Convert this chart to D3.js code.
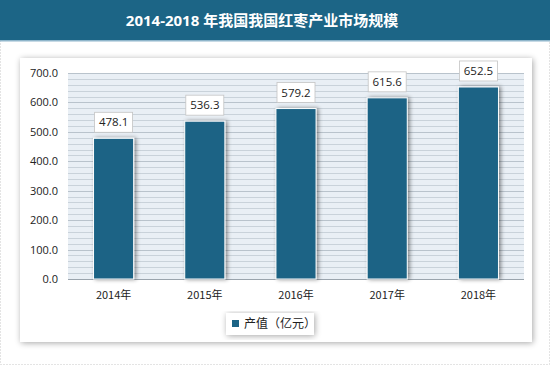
<!DOCTYPE html>
<html><head><meta charset="utf-8">
<script src="https://cdn.jsdelivr.net/npm/d3@7"></script>
<style>
html,body{margin:0;padding:0;background:#fff;}
svg{display:block;font-family:"Open Sans","Noto Sans CJK SC",sans-serif;}
</style></head>
<body><svg id="c" width="550" height="365"></svg>
<script>
const title = "2014-2018 年我国我国红枣产业市场规模";
const categories = ["2014年","2015年","2016年","2017年","2018年"];
const values = [478.1, 536.3, 579.2, 615.6, 652.5];
const yTicks = [0,100,200,300,400,500,600,700];
const seriesName = "产值（亿元）";

const svg = d3.select("#c");
const defs = svg.append("defs");
const f = defs.append("filter").attr("id","sh").attr("x","-10%").attr("y","-10%").attr("width","130%").attr("height","130%");
f.append("feGaussianBlur").attr("in","SourceAlpha").attr("stdDeviation",3);
f.append("feOffset").attr("dx",1).attr("dy",1).attr("result","b");
f.append("feComponentTransfer").append("feFuncA").attr("type","linear").attr("slope",0.35);
const m = f.append("feMerge"); m.append("feMergeNode"); m.append("feMergeNode").attr("in","SourceGraphic");

const fb = defs.append("filter").attr("id","bs").attr("x","-30%").attr("y","-10%").attr("width","160%").attr("height","120%");
fb.append("feGaussianBlur").attr("in","SourceAlpha").attr("stdDeviation",2);
fb.append("feOffset").attr("dx",2).attr("dy",0).attr("result","b");
fb.append("feComponentTransfer").append("feFuncA").attr("type","linear").attr("slope",0.45);
const mb = fb.append("feMerge"); mb.append("feMergeNode"); mb.append("feMergeNode").attr("in","SourceGraphic");

// outer dotted border
svg.append("rect").attr("x",0.5).attr("y",0.5).attr("width",549).attr("height",364)
  .attr("fill","#fff").attr("stroke","#c8c8c8").attr("stroke-dasharray","1,2");
// header
svg.append("rect").attr("x",0).attr("y",0).attr("width",550).attr("height",40).attr("fill","#1c6586");
svg.append("rect").attr("x",0).attr("y",40).attr("width",550).attr("height",1.5).attr("fill","#8fb6cb");
svg.append("text").attr("x",262).attr("y",26).attr("text-anchor","middle")
  .attr("fill","#fff").attr("font-size",15).attr("font-weight","bold").text(title);

// panel
svg.append("rect").attr("x",20).attr("y",58).attr("width",512).attr("height",284)
  .attr("fill","#fff").attr("filter","url(#sh)");

const L=68, R=524, T=73, B=279;
const x = d3.scaleBand().domain(categories).range([L,R]).paddingInner(0.56).paddingOuter(0.28);
const y = d3.scaleLinear().domain([0,700]).range([B,T]);

// plot background
svg.append("rect").attr("x",L).attr("y",T).attr("width",R-L).attr("height",B-T).attr("fill","#e9eff5");
const minor = d3.range(0,701,20);
svg.append("g").selectAll("line").data(minor).join("line")
  .attr("x1",L).attr("x2",R).attr("y1",d=>Math.round(y(d))+0.5).attr("y2",d=>Math.round(y(d))+0.5)
  .attr("stroke",d=>d%100===0?"#b9c3cc":"#c9d2da").attr("stroke-width",1.2);

// y axis
const ya = svg.append("g").attr("transform",`translate(${L},0)`)
  .call(d3.axisLeft(y).tickValues(yTicks).tickFormat(d3.format(".1f")).tickSize(0).tickPadding(10));
ya.select(".domain").remove();
ya.selectAll("text").attr("font-size",11).attr("fill","#222").attr("font-family","'Open Sans','Noto Sans CJK SC',sans-serif");

// x axis
svg.append("line").attr("x1",L).attr("x2",R).attr("y1",B+0.5).attr("y2",B+0.5).attr("stroke","#9aa4ad");
const xa = svg.append("g").attr("transform",`translate(0,${B})`)
  .call(d3.axisBottom(x).tickSize(0).tickPadding(12));
xa.select(".domain").remove();
xa.selectAll("text").attr("font-size",11).attr("fill","#222").attr("font-family","'Noto Sans CJK SC',sans-serif");

// bars
svg.append("g").selectAll("rect").data(values).join("rect")
  .attr("x",(d,i)=>x(categories[i])).attr("width",x.bandwidth())
  .attr("y",d=>y(d)).attr("height",d=>B-y(d))
  .attr("fill","#1b6385").attr("stroke","#fff").attr("stroke-width",1)
  .attr("filter","url(#bs)");

// value labels
const lg = svg.append("g").selectAll("g").data(values).join("g")
  .attr("transform",(d,i)=>`translate(${x(categories[i])+x.bandwidth()/2},${y(d)-16})`);
lg.append("rect").attr("x",-19).attr("y",-10).attr("width",38).attr("height",20)
  .attr("fill","#fff").attr("stroke","#c4c4c4").attr("stroke-width",0.8);
lg.append("text").attr("text-anchor","middle").attr("dy","0.36em")
  .attr("font-size",11.5).attr("fill","#222").text(d=>d3.format(".1f")(d));

// legend
const leg = svg.append("g").attr("transform","translate(232,324)");
leg.append("rect").attr("x",-6).attr("y",-11).attr("width",88).attr("height",22).attr("fill","#fff").attr("filter","url(#sh)");
leg.append("rect").attr("x",0).attr("y",-4).attr("width",7).attr("height",7).attr("fill","#1b6385");
leg.append("text").attr("x",12).attr("y",0).attr("dy","0.36em").attr("font-size",12).attr("fill","#222")
  .attr("font-family","'Noto Sans CJK SC',sans-serif").text(seriesName);
</script></body></html>
